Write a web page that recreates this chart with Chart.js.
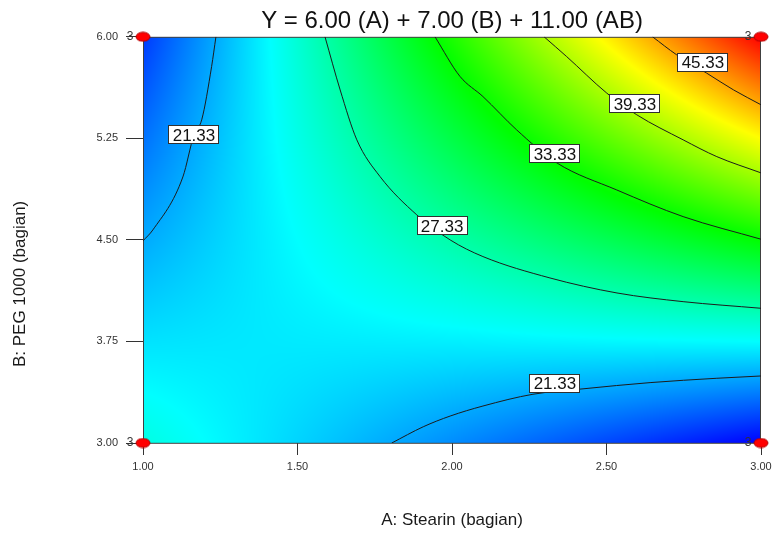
<!DOCTYPE html>
<html>
<head>
<meta charset="utf-8">
<script src="https://cdn.jsdelivr.net/npm/chart.js@4.4.1/dist/chart.umd.min.js"></script>
<style>
  body { margin: 0; background: #fff; }
  #wrap { width: 773px; height: 534px; }
</style>
</head>
<body>
<div id="wrap"><canvas id="contourChart"></canvas></div>
<script>
// Factor levels of the response grid (A: Stearin, B: PEG 1000)
const gridA = [1.00, 1.50, 2.00, 2.50, 3.00];
const gridB = [3.00, 3.75, 4.50, 5.25, 6.00];

// Response at each grid node, one list per B level
const yAtB300 = [25.3, 22.8, 20.3, 17.8, 15.3];
const yAtB375 = [23.3, 23.6, 23.8, 24.1, 24.3];
const yAtB450 = [21.3, 24.3, 27.3, 30.3, 33.3];
const yAtB525 = [19.3, 25.1, 30.8, 36.6, 42.3];
const yAtB600 = [17.3, 25.8, 34.3, 42.8, 51.3];
const gridY = [yAtB300, yAtB375, yAtB450, yAtB525, yAtB600];

// Contour lines
const c2133aA = [1.000, 1.032, 1.129, 1.165, 1.190, 1.222, 1.236];
const c2133aB = [4.493, 4.574, 4.965, 5.276, 5.387, 5.780, 6.000];
const c2133bA = [1.805, 1.907, 1.994, 2.100, 2.262, 2.424, 2.641, 2.857, 3.000];
const c2133bB = [3.000, 3.120, 3.199, 3.273, 3.360, 3.400, 3.446, 3.478, 3.495];
const c2733A = [1.589, 1.638, 1.692, 1.767, 1.886, 1.994, 2.100, 2.317, 2.534, 2.748, 3.000];
const c2733B = [6.000, 5.608, 5.239, 4.968, 4.685, 4.500, 4.377, 4.219, 4.108, 4.044, 3.995];
const c3333A = [1.945, 2.026, 2.100, 2.209, 2.339, 2.533, 2.748, 3.000];
const c3333B = [6.000, 5.707, 5.559, 5.313, 5.069, 4.869, 4.672, 4.505];
const c3933A = [2.298, 2.371, 2.501, 2.598, 2.748, 2.857, 3.000];
const c3933B = [6.000, 5.854, 5.584, 5.424, 5.239, 5.115, 4.995];
const c4533A = [2.649, 2.727, 2.824, 2.911, 3.000];
const c4533B = [6.000, 5.867, 5.732, 5.608, 5.498];

// Where the contour value boxes sit
const labelText = ['21.33', '27.33', '33.33', '39.33', '45.33', '21.33'];
const labelA = [1.165, 1.968, 2.333, 2.592, 2.812, 2.333];
const labelB = [5.276, 4.603, 5.135, 5.505, 5.808, 3.443];

// Design points (corners) and their replicate counts
const designA = [1.00, 1.00, 3.00, 3.00];
const designB = [3.00, 6.00, 3.00, 6.00];
const designReps = [3, 3, 3, 3];

const xTicks = [1.00, 1.50, 2.00, 2.50, 3.00];
const yTicks = [3.00, 3.75, 4.50, 5.25, 6.00];

const FONT = "'Liberation Sans', Arial, sans-serif";

function toPoints(xs, ys) {
    return xs.map((v, i) => ({ x: v, y: ys[i] }));
}

// bilinear lookup inside the grid
function surfaceAt(a, b) {
    let i = 0, j = 0;
    while (i < gridA.length - 2 && a > gridA[i + 1]) i++;
    while (j < gridB.length - 2 && b > gridB[j + 1]) j++;
    const u = (a - gridA[i]) / (gridA[i + 1] - gridA[i]);
    const v = (b - gridB[j]) / (gridB[j + 1] - gridB[j]);
    const z00 = gridY[j][i], z10 = gridY[j][i + 1];
    const z01 = gridY[j + 1][i], z11 = gridY[j + 1][i + 1];
    return z00 * (1 - u) * (1 - v) + z10 * u * (1 - v) + z01 * (1 - u) * v + z11 * u * v;
}

// blue - cyan - green - yellow - red
const STOPS = [[0, 0, 255], [0, 255, 255], [0, 255, 0], [255, 255, 0], [255, 0, 0]];
function colourFor(val, lo, hi) {
    let t = (val - lo) / (hi - lo);
    t = Math.max(0, Math.min(1, t)) * (STOPS.length - 1);
    const k = Math.min(STOPS.length - 2, Math.floor(t));
    const f = t - k;
    const c0 = STOPS[k], c1 = STOPS[k + 1];
    return [0, 1, 2].map(n => Math.round(c0[n] + (c1[n] - c0[n]) * f));
}

const surfacePlugin = {
    id: 'surface',
    beforeDatasetsDraw(chart) {
        const { ctx, chartArea: area, scales: { x, y } } = chart;
        const all = gridY.flat();
        const lo = Math.min(...all), hi = Math.max(...all);
        const w = Math.round(area.right - area.left);
        const h = Math.round(area.bottom - area.top);
        const off = document.createElement('canvas');
        off.width = w; off.height = h;
        const octx = off.getContext('2d');
        const img = octx.createImageData(w, h);
        for (let py = 0; py < h; py++) {
            const b = y.getValueForPixel(area.top + py + 0.5);
            for (let px = 0; px < w; px++) {
                const a = x.getValueForPixel(area.left + px + 0.5);
                const c = colourFor(surfaceAt(a, b), lo, hi);
                const idx = (py * w + px) * 4;
                img.data[idx] = c[0];
                img.data[idx + 1] = c[1];
                img.data[idx + 2] = c[2];
                img.data[idx + 3] = 255;
            }
        }
        octx.putImageData(img, 0, 0);
        ctx.drawImage(off, area.left, area.top);

        // frame round the plot
        ctx.save();
        ctx.strokeStyle = '#404040';
        ctx.lineWidth = 1;
        ctx.strokeRect(area.left + 0.5, area.top + 0.5, w - 1, h);
        ctx.restore();
    },
    afterDatasetsDraw(chart) {
        const { ctx, scales: { x, y } } = chart;
        ctx.save();
        ctx.font = '17px ' + FONT;
        ctx.textAlign = 'center';
        ctx.textBaseline = 'middle';
        labelText.forEach((txt, i) => {
            const cx = x.getPixelForValue(labelA[i]);
            const cy = y.getPixelForValue(labelB[i]);
            const bw = Math.round(ctx.measureText(txt).width) + 8;
            const bh = 19;
            ctx.fillStyle = '#ffffff';
            ctx.fillRect(Math.round(cx - bw / 2), Math.round(cy - bh / 2), bw, bh);
            ctx.strokeStyle = '#303030';
            ctx.lineWidth = 1;
            ctx.strokeRect(Math.round(cx - bw / 2) + 0.5, Math.round(cy - bh / 2) + 0.5, bw - 1, bh - 1);
            ctx.fillStyle = '#111111';
            ctx.fillText(txt, cx, cy + 1);
        });
        ctx.restore();
    },
    afterDraw(chart) {
        const { ctx, chartArea: area, scales: { x, y } } = chart;
        ctx.save();
        // replicate counts next to design points
        ctx.font = '12px ' + FONT;
        ctx.fillStyle = '#333333';
        ctx.textAlign = 'center';
        ctx.textBaseline = 'middle';
        designA.forEach((a, i) => {
            ctx.fillText(String(designReps[i]), x.getPixelForValue(a) - 13, y.getPixelForValue(designB[i]));
        });
        // y axis title
        ctx.font = '17px ' + FONT;
        ctx.fillStyle = '#1a1a1a';
        ctx.translate(20, (area.top + area.bottom) / 2 + 44);
        ctx.rotate(-Math.PI / 2);
        ctx.fillText('B: PEG 1000 (bagian)', 0, 0);
        ctx.restore();
    }
};

// red ellipse for the design points
const dot = document.createElement('canvas');
dot.width = 16; dot.height = 11;
const dctx = dot.getContext('2d');
dctx.fillStyle = '#ff0000';
dctx.beginPath();
dctx.ellipse(8, 5.5, 7, 4.5, 0, 0, 2 * Math.PI);
dctx.fill();
dctx.strokeStyle = '#b00000';
dctx.lineWidth = 1;
dctx.stroke();

function contourSet(xs, ys) {
    return {
        type: 'line',
        data: toPoints(xs, ys),
        borderColor: '#1c1c1c',
        borderWidth: 1,
        pointRadius: 0,
        cubicInterpolationMode: 'monotone',
        fill: false,
        order: 1
    };
}

new Chart(document.getElementById('contourChart'), {
    type: 'scatter',
    data: {
        datasets: [
            {
                data: toPoints(designA, designB),
                pointStyle: dot,
                pointRadius: 7,
                clip: false,
                order: 0
            },
            contourSet(c2133aA, c2133aB),
            contourSet(c2133bA, c2133bB),
            contourSet(c2733A, c2733B),
            contourSet(c3333A, c3333B),
            contourSet(c3933A, c3933B),
            contourSet(c4533A, c4533B)
        ]
    },
    options: {
        responsive: true,
        maintainAspectRatio: false,
        animation: false,
        layout: { padding: { left: 0, right: 12, top: 0, bottom: 0 } },
        plugins: {
            legend: { display: false },
            tooltip: { enabled: false },
            title: {
                display: true,
                fullSize: false,
                text: 'Y = 6.00 (A) + 7.00 (B) + 11.00 (AB)',
                color: '#111111',
                font: { family: FONT, size: 24, weight: 'normal', lineHeight: 1.2 },
                padding: { top: 7, bottom: 1 }
            }
        },
        scales: {
            x: {
                type: 'linear',
                min: 1, max: 3,
                afterFit(scale) {
                    scale.height = 91;
                    scale.paddingLeft = 0;
                    scale.paddingRight = 0;
                },
                afterBuildTicks(scale) { scale.ticks = xTicks.map(v => ({ value: v })); },
                ticks: {
                    color: '#333333',
                    font: { family: FONT, size: 11 },
                    padding: 5,
                    callback: v => Number(v).toFixed(2)
                },
                grid: { drawOnChartArea: false, drawTicks: true, tickLength: 12, color: '#333333' },
                border: { display: false },
                title: {
                    display: true,
                    text: 'A: Stearin (bagian)',
                    color: '#1a1a1a',
                    font: { family: FONT, size: 17 },
                    padding: { top: 0, bottom: 3 }
                }
            },
            y: {
                type: 'linear',
                min: 3, max: 6,
                afterFit(scale) { scale.width = 143; },
                afterBuildTicks(scale) { scale.ticks = yTicks.map(v => ({ value: v })); },
                ticks: {
                    color: '#333333',
                    font: { family: FONT, size: 11 },
                    padding: 8,
                    callback: v => Number(v).toFixed(2)
                },
                grid: { drawOnChartArea: false, drawTicks: true, tickLength: 17, color: '#333333' },
                border: { display: false }
            }
        }
    },
    plugins: [surfacePlugin]
});
</script>
</body>
</html>
